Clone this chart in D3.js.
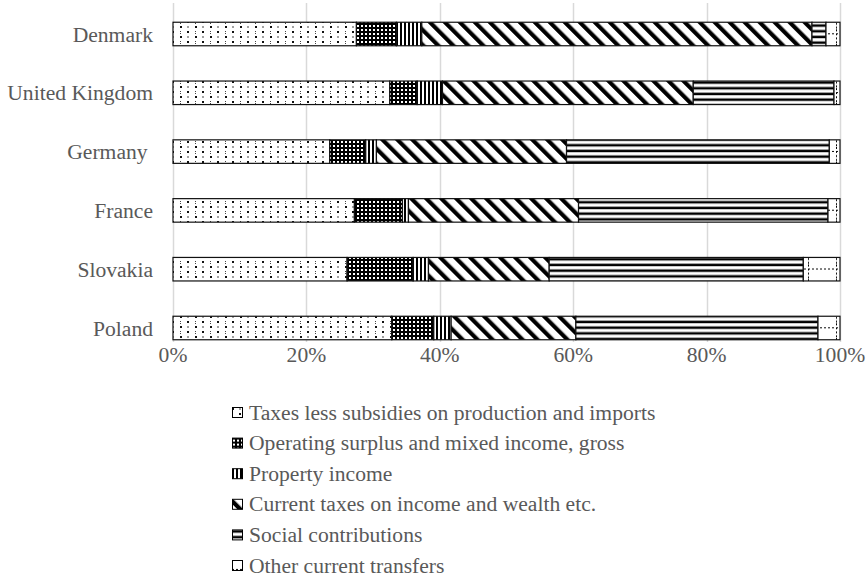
<!DOCTYPE html>
<html>
<head>
<meta charset="utf-8">
<script src="https://cdn.jsdelivr.net/npm/d3@7"></script>
<style>
  body { margin: 0; background: #fff; }
  svg, text { font-family: "Liberation Serif", "Times New Roman", Times, serif; }
  text { fill: #595959; }
</style>
</head>
<body>
<script>
// data (shares in %)
var countries = ["Denmark", "United Kingdom", "Germany ", "France", "Slovakia", "Poland"];
var seriesNames = [
  "Taxes less subsidies on production and imports",
  "Operating surplus and mixed income, gross",
  "Property income",
  "Current taxes on income and wealth etc.",
  "Social contributions",
  "Other current transfers"
];
var taxesLess    = [27.5, 32.5, 23.5, 27.2, 26.1, 32.8];
var operating    = [ 6.0,  4.1,  5.4,  7.2,  9.9,  6.3];
var property     = [ 3.8,  3.8,  1.6,  0.9,  2.3,  2.6];
var currentTaxes = [58.5, 37.6, 28.5, 25.5, 18.1, 18.7];
var social       = [ 2.1, 21.1, 39.4, 37.4, 38.1, 36.3];
var otherTrans   = [ 2.1,  0.9,  1.6,  1.8,  5.5,  3.3];
var tickValues = [0, 0.2, 0.4, 0.6, 0.8, 1];

var width = 868, height = 578;
var fontSize = "21.6px";
var seriesValues = [taxesLess, operating, property, currentTaxes, social, otherTrans];

var rows = countries.map(function(c, i) {
  var r = { country: c };
  seriesNames.forEach(function(s, j) { r[s] = seriesValues[j][i]; });
  return r;
});

var svg = d3.select("body").append("svg")
  .attr("width", width)
  .attr("height", height)
  .attr("font-family", "Liberation Serif, Times New Roman, serif");

// fill patterns, black on white
var defs = svg.append("defs");
function pattern(id, w, h, transform) {
  var p = defs.append("pattern")
    .attr("id", id)
    .attr("patternUnits", "userSpaceOnUse")
    .attr("width", w).attr("height", h);
  if (transform) p.attr("patternTransform", transform);
  p.append("rect").attr("width", w).attr("height", h).attr("fill", "#fff");
  return p;
}
function dot(p, x0, y0, w, h, c) {
  p.append("rect").attr("x", x0).attr("y", y0).attr("width", w).attr("height", h).attr("fill", c);
}
// sparse dots
var p0 = pattern("pat0", 15, 10);
dot(p0, 7, 1, 2, 2, "#111");
dot(p0, 0, 6, 2, 2, "#111");
dot(p0, 0, 1, 1, 1, "#444");
dot(p0, 0, 3, 1, 1, "#444");
dot(p0, 7.5, 6, 1, 2, "#444");
// dense dark grid
var p1 = pattern("pat1", 4, 4);
dot(p1, 0, 0, 4, 4, "#000");
dot(p1, 1, 1, 2, 2, "#fff");
// vertical lines
var p2 = pattern("pat2", 4, 4);
dot(p2, 0, 0, 2, 4, "#000");
// wide downward diagonal
var p3 = pattern("pat3", 10.6, 10.6, "rotate(-45)");
dot(p3, 0, 0, 4.2, 10.6, "#000");
// horizontal lines
var p4 = pattern("pat4", 6, 5.7);
dot(p4, 0, 1.5, 6, 2.5, "#000");
// dashed grid
var p5 = pattern("pat5", 28, 14.7);
p5.append("line").attr("x1", 0).attr("x2", 28).attr("y1", 4.5).attr("y2", 4.5)
  .attr("stroke", "#000").attr("stroke-width", 1).attr("stroke-dasharray", "2,2");
p5.append("line").attr("x1", 24.5).attr("x2", 24.5).attr("y1", 0).attr("y2", 14.7)
  .attr("stroke", "#000").attr("stroke-width", 1).attr("stroke-dasharray", "2,2");

var x = d3.scaleLinear().domain([0, 1]).range([173, 840]);
var y = d3.scaleBand().domain(countries).range([4.6, 357.4])
  .paddingInner(0.6).paddingOuter(0.3);

// gridlines
svg.append("g").selectAll("line")
  .data(tickValues)
  .enter().append("line")
  .attr("x1", function(d) { return Math.round(x(d)) + 0.5; })
  .attr("x2", function(d) { return Math.round(x(d)) + 0.5; })
  .attr("y1", 3).attr("y2", 342)
  .attr("stroke", "#d9d9d9").attr("stroke-width", 1.5);

// tick labels
svg.append("g").selectAll("text")
  .data(tickValues)
  .enter().append("text")
  .attr("x", function(d) { return x(d); })
  .attr("y", 354)
  .attr("dy", "0.35em")
  .attr("text-anchor", "middle")
  .style("font-size", fontSize)
  .text(d3.format(".0%"));

// category labels
svg.append("g").selectAll("text")
  .data(countries)
  .enter().append("text")
  .attr("x", 153)
  .attr("y", function(d) { return y(d) + y.bandwidth() / 2; })
  .attr("dy", "0.35em")
  .attr("text-anchor", "end")
  .style("font-size", fontSize)
  .style("white-space", "pre")
  .text(function(d) { return d; });

var stack = d3.stack().keys(seriesNames).offset(d3.stackOffsetExpand);
var series = stack(rows);

svg.append("g").selectAll("g")
  .data(series)
  .enter().append("g")
  .attr("fill", function(d, i) { return "url(#pat" + i + ")"; })
  .selectAll("rect")
  .data(function(d) { return d; })
  .enter().append("rect")
  .attr("x", function(d) { return x(d[0]); })
  .attr("width", function(d) { return x(d[1]) - x(d[0]); })
  .attr("y", function(d) { return y(d.data.country); })
  .attr("height", y.bandwidth())
  .attr("stroke", "#111")
  .attr("stroke-width", 1.2);

// legend
var legend = svg.append("g").selectAll("g")
  .data(seriesNames)
  .enter().append("g")
  .attr("transform", function(d, i) { return "translate(232," + (412 + i * 30.6) + ")"; });

legend.append("rect")
  .attr("x", 0.5).attr("y", -4.5)
  .attr("width", 10).attr("height", 10)
  .attr("fill", function(d, i) { return "url(#pat" + i + ")"; })
  .attr("stroke", "#000").attr("stroke-width", 1);

legend.append("text")
  .attr("x", 17)
  .attr("dy", "0.35em")
  .style("font-size", fontSize)
  .text(function(d) { return d; });
</script>
</body>
</html>
